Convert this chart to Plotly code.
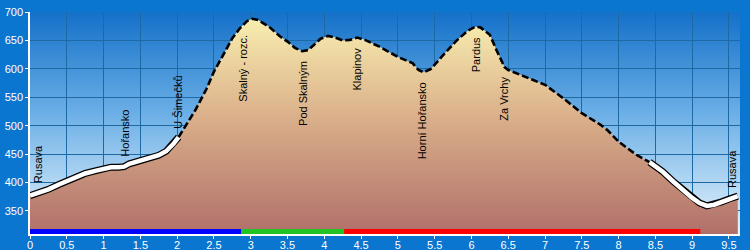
import base64
import numpy as np
import plotly.graph_objects as go

# ---- data ----
distance_km = [0.00, 0.10, 0.25, 0.40, 0.50, 0.65, 0.75, 0.90, 1.00, 1.10, 1.20, 1.28, 1.35,
               1.50, 1.65, 1.75, 1.85, 1.95, 2.02, 2.10, 2.25, 2.40, 2.50, 2.65, 2.75, 2.85,
               2.95, 3.02, 3.10, 3.25, 3.40, 3.50, 3.60, 3.70, 3.78, 3.85, 3.95, 4.05, 4.15,
               4.25, 4.35, 4.45, 4.55, 4.75, 5.00, 5.20, 5.28, 5.35, 5.45, 5.60, 5.80, 5.95,
               6.05, 6.12, 6.25, 6.34, 6.38, 6.45, 6.50, 6.75, 7.00, 7.25, 7.50, 7.75, 7.85,
               8.00, 8.25, 8.42, 8.60, 8.75, 8.90, 9.00, 9.10, 9.20, 9.30, 9.40, 9.50, 9.62]
elevation_m = [377, 381, 388, 397, 403, 411, 416, 421, 425, 427, 427, 428, 433,
               438, 443, 448, 455, 468, 480, 496, 528, 565, 595, 630, 654, 671,
               684, 688, 686, 674, 657, 648, 637, 631, 633, 641, 653, 658, 655,
               650, 651, 655, 651, 639, 621, 610, 598, 594, 600, 622, 650, 667,
               674, 673, 660, 633, 622, 603, 598, 585, 572, 548, 522, 502, 492,
               472, 448, 436, 419, 401, 384, 373, 364, 359, 361, 366, 371, 376]

# route line styles: (start km, end km, style)
line_segments = [(0.00, 2.02, "road"), (2.02, 8.42, "path"), (8.42, 9.62, "road")]

# marked route colours along the bottom
route_from = [0.00, 2.87, 4.27]
route_to = [2.87, 4.27, 9.11]
route_colors = ["#0000ff", "#22c322", "#ff0000"]
route_bar_level = 313.8

# waypoint labels
wp_names = ["Rusava", "Hořansko", "U Šimečků", "Skalný - rozc.", "Pod Skalným", "Klapinov",
            "Horní Hořansko", "Pardus", "Za Vrchy", "Rusava"]
wp_km = [0.11, 1.29, 2.00, 2.90, 3.70, 4.45, 5.34, 6.06, 6.45, 9.54]
wp_side = ["above", "above", "above", "below", "below", "below", "below", "below", "below", "above"]

x_ticks = [0, 0.5, 1, 1.5, 2, 2.5, 3, 3.5, 4, 4.5, 5, 5.5, 6, 6.5, 7, 7.5, 8, 8.5, 9, 9.5]
x_tick_text = ["0", "0.5", "1", "1.5", "2", "2.5", "3", "3.5", "4", "4.5", "5", "5.5", "6",
               "6.5", "7", "7.5", "8", "8.5", "9", "9.5"]
y_ticks = [350, 400, 450, 500, 550, 600, 650, 700]

X_RANGE = [0, 9.65]
Y_RANGE = [309.5, 700]

d = np.array(distance_km)
e = np.array(elevation_m)

fig = go.Figure()

# terrain fill
fig.add_trace(go.Scatter(
    x=d, y=e, mode="lines", line=dict(width=0, color="rgba(0,0,0,0)"),
    fill="tozeroy",
    fillgradient=dict(type="vertical", start=Y_RANGE[0], stop=Y_RANGE[1],
                      colorscale=[[0, "#b0706a"], [0.5, "#d8ac88"], [1, "#fbf2b2"]]),
    hoverinfo="skip", showlegend=False))

# profile line segments
for a, b, style in line_segments:
    m = (d >= a - 1e-9) & (d <= b + 1e-9)
    if style == "road":
        fig.add_trace(go.Scatter(x=d[m], y=e[m], mode="lines",
                                 line=dict(color="black", width=7),
                                 hoverinfo="skip", showlegend=False))
        fig.add_trace(go.Scatter(x=d[m], y=e[m], mode="lines",
                                 line=dict(color="white", width=4.5),
                                 hoverinfo="skip", showlegend=False))
    else:
        fig.add_trace(go.Scatter(x=d[m], y=e[m], mode="lines",
                                 line=dict(color="black", width=2.6, dash="7px,3px"),
                                 hoverinfo="skip", showlegend=False))

# route colour bar
for a, b, c in zip(route_from, route_to, route_colors):
    fig.add_trace(go.Scatter(x=[a, b], y=[route_bar_level, route_bar_level], mode="lines",
                             line=dict(color=c, width=5), hoverinfo="skip", showlegend=False))

# waypoint labels
for name, km, side in zip(wp_names, wp_km, wp_side):
    yv = float(np.interp(km, d, e))
    fig.add_annotation(x=km, y=yv, text=name, textangle=-90, showarrow=False,
                       xanchor="center",
                       yanchor="bottom" if side == "above" else "top",
                       yshift=8 if side == "above" else -8,
                       font=dict(family="Arial, Liberation Sans, sans-serif", size=11, color="black"))

# plot-area sky gradient background
svg = ("<svg xmlns='http://www.w3.org/2000/svg' width='10' height='100' preserveAspectRatio='none'>"
       "<defs><linearGradient id='g' x1='0' y1='0' x2='0' y2='1'>"
       "<stop offset='0' stop-color='#1470c8'/><stop offset='0.45' stop-color='#6aaee6'/>"
       "<stop offset='1' stop-color='#e6f4fc'/></linearGradient></defs>"
       "<rect width='10' height='100' fill='url(#g)'/></svg>")
src = "data:image/svg+xml;base64," + base64.b64encode(svg.encode()).decode()
fig.add_layout_image(dict(source=src, xref="paper", yref="paper", x=0, y=1, sizex=1, sizey=1,
                          xanchor="left", yanchor="top", sizing="stretch", layer="below"))

axis_font = dict(family="Arial, Liberation Sans, sans-serif", size=11, color="white")
fig.update_layout(
    width=750, height=250,
    margin=dict(l=30, r=10, t=12, b=16, pad=0),
    paper_bgcolor="#0b76cf",
    plot_bgcolor="rgba(0,0,0,0)",
    xaxis=dict(range=X_RANGE, tickvals=x_ticks, ticktext=x_tick_text, showgrid=True,
               gridcolor="#1d69a3", gridwidth=1, zeroline=False, showline=True,
               linecolor="white", linewidth=1.5, ticks="outside", ticklen=3, tickcolor="white",
               tickfont=axis_font, automargin=False, ticklabelstandoff=-3),
    yaxis=dict(range=Y_RANGE, tickvals=y_ticks, showgrid=True, gridcolor="#1d69a3",
               gridwidth=1, zeroline=False, showline=True, linecolor="white", linewidth=1.5,
               ticks="outside", ticklen=3, tickcolor="white", tickfont=axis_font,
               automargin=False),
)

fig.write_html("out.html")
